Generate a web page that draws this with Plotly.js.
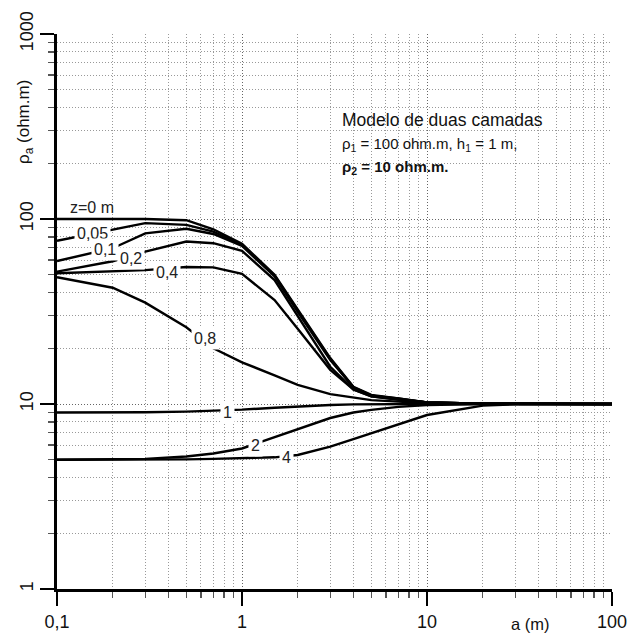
<!DOCTYPE html>
<html>
<head>
<meta charset="utf-8">
<script src="https://cdn.plot.ly/plotly-3.0.1.min.js"></script>
<style>html,body{margin:0;padding:0;background:#fff;}#chart{width:643px;height:634px;}</style>
</head>
<body>
<div id="chart"></div>
<script>
// electrode spacing a (m)
const aValues = [0.1, 0.2, 0.3, 0.5, 0.7, 1, 1.5, 2, 3, 4, 5, 7, 10, 20, 30, 50, 100];
// apparent resistivity (ohm.m) for each depth z
const rhoZ0   = [100, 100, 100, 98.5, 88, 73.5, 50, 32.5, 17.7, 12.4, 11.2, 10.7, 10.2, 10.03, 10, 10, 10];
const rhoZ005 = [76.3, 88, 95, 93, 85.5, 72.5, 49.5, 32, 17.5, 12.3, 11.1, 10.7, 10.2, 10.03, 10, 10, 10];
const rhoZ01  = [59.3, 69.5, 83.7, 88.5, 83, 71.5, 49, 31.5, 17.3, 12.3, 11.1, 10.7, 10.2, 10.03, 10, 10, 10];
const rhoZ02  = [51.9, 59.1, 66.6, 75.5, 74, 67.3, 46.8, 30, 15.9, 12, 11, 10.6, 10.2, 10.03, 10, 10, 10];
const rhoZ04  = [50.9, 51.9, 52.9, 55, 54.8, 50.5, 36.5, 25.5, 15.3, 12, 11, 10.55, 10.2, 10.03, 10, 10, 10];
const rhoZ08  = [48.4, 42.5, 35.3, 26, 20, 16.8, 14.3, 12.7, 11.3, 10.8, 10.5, 10.3, 10.1, 10.02, 10, 10, 10];
const rhoZ1   = [9.0, 9.0, 9.02, 9.1, 9.2, 9.32, 9.55, 9.7, 9.88, 9.95, 9.98, 10, 10, 10, 10, 10, 10];
const rhoZ2   = [5.0, 5.02, 5.05, 5.2, 5.4, 5.75, 6.6, 7.3, 8.4, 9.0, 9.3, 9.65, 9.88, 10, 10, 10, 10];
const rhoZ4   = [5.0, 5.0, 5.0, 5.02, 5.05, 5.1, 5.15, 5.3, 5.88, 6.45, 6.95, 7.8, 8.72, 9.8, 9.97, 10, 10];

const curveNames = ['z=0 m', '0,05', '0,1', '0,2', '0,4', '0,8', '1', '2', '4'];
const curveData = [rhoZ0, rhoZ005, rhoZ01, rhoZ02, rhoZ04, rhoZ08, rhoZ1, rhoZ2, rhoZ4];

const xTickVals = [0.1, 1, 10, 100];
const xTickText = ['0,1', '1', '10', '100'];
const yTickVals = [1, 10, 100, 1000];
const yTickText = ['1', '10', '100', '1000'];

const FONT = 'Liberation Sans, Arial, sans-serif';

const traces = curveData.map((ys, i) => ({
  x: aValues, y: ys, name: curveNames[i], type: 'scatter', mode: 'lines',
  line: {color: '#000', width: 2.4}, hoverinfo: 'skip', showlegend: false
}));

function minorVals(lo, hi) {
  const v = [];
  for (let d = lo; d < hi; d++) for (let k = 2; k <= 9; k++) v.push(k * Math.pow(10, d));
  return v;
}

// curve label positions (a, rho)
const labelPos = [
  {t: 'z=0 m', a: 0.154, r: 116, bg: false},
  {t: '0,05', a: 0.1565, r: 84.0, bg: true},
  {t: '0,1', a: 0.1817, r: 68.8, bg: true},
  {t: '0,2', a: 0.2503, r: 61.5, bg: true},
  {t: '0,4', a: 0.392, r: 51.7, bg: true},
  {t: '0,8', a: 0.631, r: 22.7, bg: true},
  {t: '1', a: 0.84, r: 9.05, bg: true},
  {t: '2', a: 1.19, r: 5.93, bg: true},
  {t: '4', a: 1.744, r: 5.17, bg: true}
];

const annotations = labelPos.map(l => ({
  x: Math.log10(l.a), y: Math.log10(l.r), xref: 'x', yref: 'y',
  text: l.t, showarrow: false, font: {family: FONT, size: 16, color: '#222'},
  bgcolor: l.bg ? '#fff' : 'rgba(0,0,0,0)', borderpad: 2
}));

function px2paperX(px) { return (px - 57) / 555; }
function px2paperY(py) { return (589 - py) / 555; }

annotations.push(
  {xref: 'paper', yref: 'paper', x: px2paperX(340), y: px2paperY(120), xanchor: 'left', yanchor: 'middle',
   text: 'Modelo de duas camadas', showarrow: false, font: {family: FONT, size: 17.5, color: '#111'}},
  {xref: 'paper', yref: 'paper', x: px2paperX(340), y: px2paperY(145), xanchor: 'left', yanchor: 'middle',
   text: 'ρ<sub>1</sub> = 100 ohm.m, h<sub>1</sub> = 1 m,', showarrow: false, font: {family: FONT, size: 15, color: '#111'}},
  {xref: 'paper', yref: 'paper', x: px2paperX(340), y: px2paperY(167), xanchor: 'left', yanchor: 'middle',
   text: '<b>ρ<sub>2</sub> = 10 ohm.m.</b>', showarrow: false, font: {family: FONT, size: 15, color: '#111'}},
  {xref: 'paper', yref: 'paper', x: px2paperX(530), y: px2paperY(624), xanchor: 'center', yanchor: 'middle',
   text: 'a (m)', showarrow: false, font: {family: FONT, size: 16.5, color: '#111'}},
  {xref: 'paper', yref: 'paper', x: px2paperX(25), y: px2paperY(122), xanchor: 'center', yanchor: 'middle',
   text: 'ρ<sub>a</sub> (ohm.m)', textangle: -90, showarrow: false, font: {family: FONT, size: 17, color: '#111'}}
);

const layout = {
  width: 643, height: 634,
  margin: {l: 57, r: 31, t: 34, b: 45, pad: 0},
  paper_bgcolor: '#fff', plot_bgcolor: '#fff',
  font: {family: FONT, size: 18, color: '#111'},
  showlegend: false,
  xaxis: {
    type: 'log', range: [-1, 2], tickvals: xTickVals, ticktext: xTickText,
    showline: true, linecolor: '#000', linewidth: 3, mirror: false,
    ticks: 'outside', ticklen: 14, tickwidth: 1.5, tickcolor: '#000',
    showgrid: true, gridcolor: '#666', griddash: '1px,2px', gridwidth: 1,
    zeroline: false, tickfont: {family: FONT, size: 18, color: '#111'},
    minor: {tickvals: minorVals(-1, 2), ticks: 'outside', ticklen: 6, tickwidth: 1.5, tickcolor: '#555',
            showgrid: true, gridcolor: '#999', griddash: '1px,2px', gridwidth: 1}
  },
  yaxis: {
    type: 'log', range: [0, 3], tickvals: yTickVals, ticktext: yTickText, tickangle: -90,
    showline: true, linecolor: '#000', linewidth: 3, mirror: false,
    ticks: 'outside', ticklen: 14, tickwidth: 1.5, tickcolor: '#000',
    showgrid: true, gridcolor: '#666', griddash: '1px,2px', gridwidth: 1,
    zeroline: false, tickfont: {family: FONT, size: 18, color: '#111'},
    minor: {tickvals: minorVals(0, 3), ticks: 'outside', ticklen: 6, tickwidth: 1.5, tickcolor: '#555',
            showgrid: true, gridcolor: '#999', griddash: '1px,2px', gridwidth: 1}
  },
  annotations: annotations
};

Plotly.newPlot('chart', traces, layout, {staticPlot: true, displayModeBar: false});
</script>
</body>
</html>
